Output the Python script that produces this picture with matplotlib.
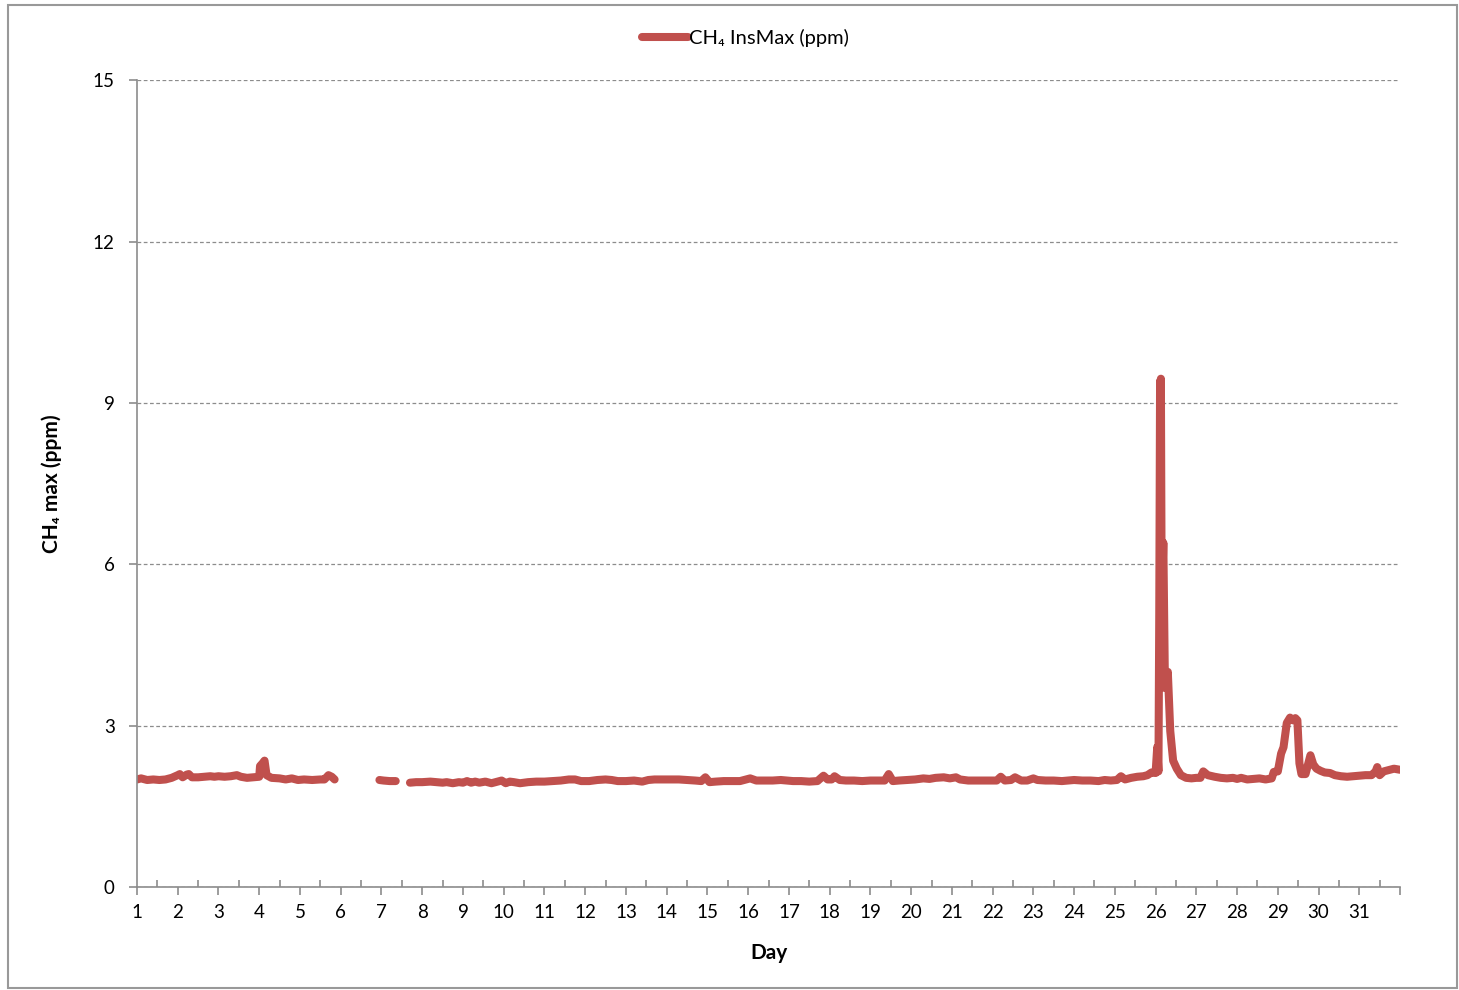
import numpy as np
import matplotlib.pyplot as plt
from matplotlib.patches import Rectangle
from matplotlib.ticker import MultipleLocator

plt.rcParams['font.family'] = ['Lato', 'DejaVu Sans']

# daily CH4 max readings, NaN marks missing data
day = [1.00, 1.10, 1.25, 1.40, 1.55, 1.70, 1.85, 2.00, 2.05, 2.12, 2.22, 2.27, 2.35,
       2.50, 2.65, 2.80, 2.90, 3.00, 3.15, 3.30, 3.45, 3.55, 3.70, 3.85, 4.00, 4.02,
       4.08, 4.13, 4.18, 4.30, 4.50, 4.65, 4.80, 4.95, 5.10, 5.30, 5.50, 5.60, 5.70,
       5.78, 5.85, 6.30,
       6.95, 7.05, 7.20, 7.35, 7.50,
       7.70, 7.85, 8.00, 8.20, 8.35, 8.50, 8.60, 8.75, 8.90, 9.00, 9.10, 9.20, 9.30,
       9.40, 9.55, 9.70, 9.85, 9.95, 10.05, 10.15, 10.25, 10.40, 10.60, 10.80, 11.00,
       11.20, 11.40, 11.60, 11.75, 11.90, 12.10, 12.30, 12.50, 12.65, 12.80, 13.00,
       13.20, 13.40, 13.55, 13.70, 13.90, 14.10, 14.30, 14.50, 14.70, 14.85, 14.95,
       15.05, 15.20, 15.40, 15.60, 15.80, 15.95, 16.05, 16.20, 16.40, 16.60, 16.80,
       16.95, 17.10, 17.30, 17.50, 17.70, 17.85, 17.95, 18.05, 18.12, 18.25, 18.40,
       18.60, 18.80, 19.00, 19.20, 19.35, 19.45, 19.55, 19.70, 19.90, 20.10, 20.30,
       20.45, 20.60, 20.80, 20.95, 21.10, 21.20, 21.40, 21.60, 21.80, 22.00, 22.10,
       22.20, 22.30, 22.45, 22.55, 22.70, 22.85, 23.00, 23.10, 23.30, 23.50, 23.70,
       23.85, 24.00, 24.20, 24.40, 24.60, 24.75, 24.90, 25.05, 25.15, 25.25, 25.40,
       25.55, 25.70, 25.80, 25.90, 26.00, 26.04, 26.07, 26.09, 26.11, 26.12, 26.13,
       26.15, 26.19, 26.23, 26.27, 26.30, 26.36, 26.43, 26.52, 26.62, 26.75, 26.88,
       27.00, 27.10,
       27.17, 27.28, 27.45, 27.60, 27.75, 27.90, 28.00, 28.10, 28.25, 28.40, 28.55,
       28.70, 28.85, 28.90, 29.00, 29.08, 29.14, 29.22, 29.30, 29.37, 29.43, 29.48,
       29.53, 29.58, 29.68, 29.80, 29.87, 29.95, 30.05, 30.15, 30.28, 30.40, 30.55,
       30.70, 30.85, 31.00, 31.15, 31.30, 31.40, 31.44, 31.50, 31.60, 31.75, 31.85,
       32.00]
ch4 = [2.00, 2.02, 1.99, 2.00, 1.99, 2.00, 2.03, 2.08, 2.10, 2.04, 2.09, 2.10, 2.04,
       2.04, 2.05, 2.06, 2.05, 2.06, 2.05, 2.06, 2.08, 2.05, 2.03, 2.04, 2.05, 2.25,
       2.30, 2.35, 2.08, 2.03, 2.02, 2.00, 2.02, 1.99, 2.00, 1.99, 2.00, 2.00, 2.08,
       2.05, 2.00, np.nan,
       1.99, 1.98, 1.97, 1.97, np.nan,
       1.94, 1.95, 1.95, 1.96, 1.95, 1.94, 1.95, 1.93, 1.95, 1.94, 1.97, 1.94, 1.96,
       1.94, 1.96, 1.93, 1.96, 1.98, 1.93, 1.96, 1.95, 1.93, 1.95, 1.96, 1.96,
       1.97, 1.98, 2.00, 2.00, 1.97, 1.97, 1.99, 2.00, 1.99, 1.97, 1.97,
       1.98, 1.96, 1.99, 2.00, 2.00, 2.00, 2.00, 1.99, 1.98, 1.97, 2.04,
       1.95, 1.96, 1.97, 1.97, 1.97, 2.00, 2.02, 1.98, 1.98, 1.98, 1.99,
       1.98, 1.97, 1.97, 1.96, 1.97, 2.07, 2.00, 2.00, 2.06, 1.99, 1.98,
       1.98, 1.97, 1.98, 1.98, 1.98, 2.10, 1.97, 1.98, 1.99, 2.00, 2.02,
       2.01, 2.03, 2.04, 2.02, 2.04, 2.00, 1.98, 1.98, 1.98, 1.98, 1.98,
       2.05, 1.98, 1.99, 2.04, 1.98, 1.98, 2.02, 1.99, 1.98, 1.98, 1.97,
       1.98, 1.99, 1.98, 1.98, 1.97, 1.99, 1.98, 1.99, 2.06, 2.00, 2.03,
       2.05, 2.06, 2.08, 2.13, 2.12, 2.60, 2.15, 5.10, 9.40, 5.30, 9.45,
       5.20, 6.40, 3.70, 3.75, 4.00, 2.90, 2.35, 2.20, 2.08, 2.03, 2.02,
       2.03, 2.03,
       2.15, 2.08, 2.05, 2.03, 2.02, 2.03, 2.01, 2.03, 2.00, 2.01, 2.02,
       2.00, 2.02, 2.14, 2.15, 2.48, 2.60, 3.05, 3.15, 3.10, 3.14, 3.10,
       2.30, 2.10, 2.10, 2.45, 2.28, 2.20, 2.16, 2.13, 2.12, 2.08, 2.06,
       2.05, 2.06, 2.07, 2.08, 2.08, 2.15, 2.23, 2.08, 2.15, 2.18, 2.20,
       2.18]

fig = plt.figure(figsize=(14.59, 9.9), dpi=100)
ax = fig.add_axes([0.0939, 0.104, 0.8657, 0.815])

line, = ax.plot(day, ch4, color='#C0504D', lw=5.8, solid_capstyle='round',
                solid_joinstyle='round', label='CH\u2084 InsMax (ppm)')

ax.set_xlim(1, 32)
ax.set_ylim(0, 15)
ax.set_xticks(range(1, 33))
ax.set_xticklabels([str(d) for d in range(1, 32)] + [''])
ax.xaxis.set_minor_locator(MultipleLocator(0.5))
ax.set_yticks([0, 3, 6, 9, 12, 15])

ax.grid(axis='y', color='#8c8c8c', linestyle=(0, (3, 2)), lw=0.9)
ax.set_axisbelow(True)
for s in ['top', 'right']:
    ax.spines[s].set_visible(False)
for s in ['left', 'bottom']:
    ax.spines[s].set_color('#8c8c8c')
    ax.spines[s].set_linewidth(1.2)

ax.tick_params(axis='x', which='major', direction='out', length=6, width=1.2,
               color='#8c8c8c', labelsize=13.5, pad=6)
ax.tick_params(axis='x', which='minor', direction='in', length=5, width=1.2,
               color='#8c8c8c')
ax.tick_params(axis='y', direction='out', length=6, width=1.2,
               color='#8c8c8c', labelsize=13.5, pad=10)

ax.set_xlabel('Day', fontsize=15, fontweight='bold', labelpad=16)
ax.set_ylabel('CH\u2084 max (ppm)', fontsize=15, fontweight='bold', labelpad=22)

fig.legend(handles=[line], loc='center', bbox_to_anchor=(0.511, 0.962),
           frameon=False, fontsize=14.5, handlelength=2.3, handletextpad=0.05)

# chart frame
fig.patches.append(Rectangle((0.0055, 0.002), 0.993, 0.993, transform=fig.transFigure,
                             fill=False, edgecolor='#999999', lw=1.5))

fig.savefig('out.png', dpi=100)
